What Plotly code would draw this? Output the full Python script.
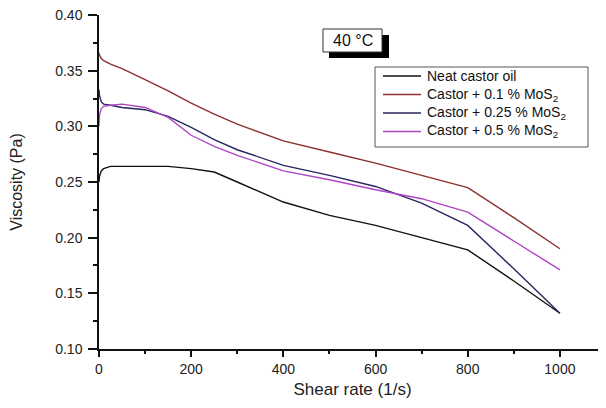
import plotly.graph_objects as go

# ---- data ----
shear_rate = [0, 1, 5, 10, 25, 50, 100, 150, 200, 250, 300, 400, 500, 600, 700, 800, 900, 1000]
neat_castor = [0.250, 0.255, 0.260, 0.262, 0.264, 0.264, 0.2645, 0.264, 0.262, 0.259, 0.250, 0.232, 0.220, 0.211, 0.200, 0.189, 0.161, 0.132]
castor_01 = [0.366, 0.364, 0.361, 0.359, 0.356, 0.352, 0.342, 0.332, 0.321, 0.311, 0.302, 0.287, 0.277, 0.267, 0.256, 0.245, 0.218, 0.190]
castor_025 = [0.333, 0.328, 0.322, 0.320, 0.319, 0.317, 0.315, 0.309, 0.299, 0.288, 0.279, 0.265, 0.256, 0.246, 0.231, 0.211, 0.172, 0.132]
castor_05 = [0.300, 0.310, 0.316, 0.318, 0.319, 0.320, 0.317, 0.308, 0.292, 0.282, 0.274, 0.260, 0.252, 0.243, 0.235, 0.223, 0.197, 0.171]

series_names = ["Neat castor oil", "Castor + 0.1 % MoS<sub>2</sub>",
                "Castor + 0.25 % MoS<sub>2</sub>", "Castor + 0.5 % MoS<sub>2</sub>"]
series_values = [neat_castor, castor_01, castor_025, castor_05]
colors = ["#111111", "#8E2F2F", "#26265F", "#B044C4"]

x_ticks = [0, 200, 400, 600, 800, 1000]
y_ticks = [0.10, 0.15, 0.20, 0.25, 0.30, 0.35, 0.40]

# page is rendered with the default 8px body margin
OFF = 8
W, H = 606 - OFF, 408 - OFF
ML, MR, MT, MB = 99 - OFF, 0, 15 - OFF, 408 - 349
PW, PH = W - ML - MR, H - MT - MB


def px(x):
    return (x - OFF - ML) / PW


def py(y):
    return (H - MB - (y - OFF)) / PH


FONT = "Liberation Sans, Arial, sans-serif"

fig = go.Figure()
for name, vals, c in zip(series_names, series_values, colors):
    fig.add_trace(go.Scatter(x=shear_rate, y=vals, mode="lines", name=name,
                             line=dict(color=c, width=1.4), showlegend=False))

shapes = []
annotations = []

# legend box (drawn manually to match compact spacing)
shapes.append(dict(type="rect", xref="paper", yref="paper",
                   x0=px(375), x1=px(588), y0=py(67), y1=py(147),
                   line=dict(color="#555555", width=1), fillcolor="white", layer="above"))
entry_y = [76, 94.5, 113, 131.5]
for name, c, ey in zip(series_names, colors, entry_y):
    shapes.append(dict(type="line", xref="paper", yref="paper",
                       x0=px(383), x1=px(421), y0=py(ey), y1=py(ey),
                       line=dict(color=c, width=1.4), layer="above"))
    annotations.append(dict(text=name, xref="paper", yref="paper",
                            x=px(425), y=py(ey), xanchor="left", yanchor="middle",
                            showarrow=False, font=dict(family=FONT, size=14, color="#111111")))

# "40 °C" box with shadow
shapes.append(dict(type="rect", xref="paper", yref="paper",
                   x0=px(329), x1=px(389), y0=py(35), y1=py(58),
                   line=dict(color="black", width=0), fillcolor="black", layer="above"))
shapes.append(dict(type="rect", xref="paper", yref="paper",
                   x0=px(323), x1=px(382), y0=py(29), y1=py(52),
                   line=dict(color="#333333", width=1), fillcolor="white", layer="above"))
annotations.append(dict(text="40 °C", xref="paper", yref="paper",
                        x=px(352.5), y=py(41), xanchor="center", yanchor="middle",
                        showarrow=False, font=dict(family=FONT, size=16, color="#111111")))

fig.update_layout(
    width=W, height=H,
    margin=dict(l=ML, r=MR, t=MT, b=MB, pad=0),
    paper_bgcolor="white", plot_bgcolor="white",
    font=dict(family=FONT, size=14, color="#222222"),
    shapes=shapes, annotations=annotations,
    showlegend=False,
)
fig.update_xaxes(
    range=[0, 1100], tickvals=x_ticks, ticktext=[str(v) for v in x_ticks],
    showline=True, linecolor="#111111", linewidth=1.5, mirror=False,
    ticks="outside", ticklen=6, tickwidth=1.5, tickcolor="#111111",
    minor=dict(dtick=100, tick0=0, ticks="outside", ticklen=3, tickwidth=1.5, tickcolor="#111111"),
    showgrid=False, zeroline=False, automargin=False, ticklabeloverflow="allow",
    tickfont=dict(family=FONT, size=14, color="#222222"),
    title=dict(text="Shear rate (1/s)", font=dict(family=FONT, size=17, color="#222222"), standoff=8),
)
fig.update_yaxes(
    range=[0.0999, 0.4001], tickvals=y_ticks, ticktext=[f"{v:.2f}" for v in y_ticks],
    showline=True, linecolor="#111111", linewidth=1.5, mirror=False,
    ticks="outside", ticklen=9, tickwidth=1.5, tickcolor="#111111",
    ticklabelstandoff=3,
    minor=dict(dtick=0.05, tick0=0.125, ticks="outside", ticklen=4, tickwidth=1.5, tickcolor="#111111"),
    showgrid=False, zeroline=False, automargin=False, ticklabeloverflow="allow",
    tickfont=dict(family=FONT, size=14, color="#222222"),
    title=dict(text="Viscosity (Pa)", font=dict(family=FONT, size=16, color="#222222"), standoff=38),
)

fig.write_html("out.html")
